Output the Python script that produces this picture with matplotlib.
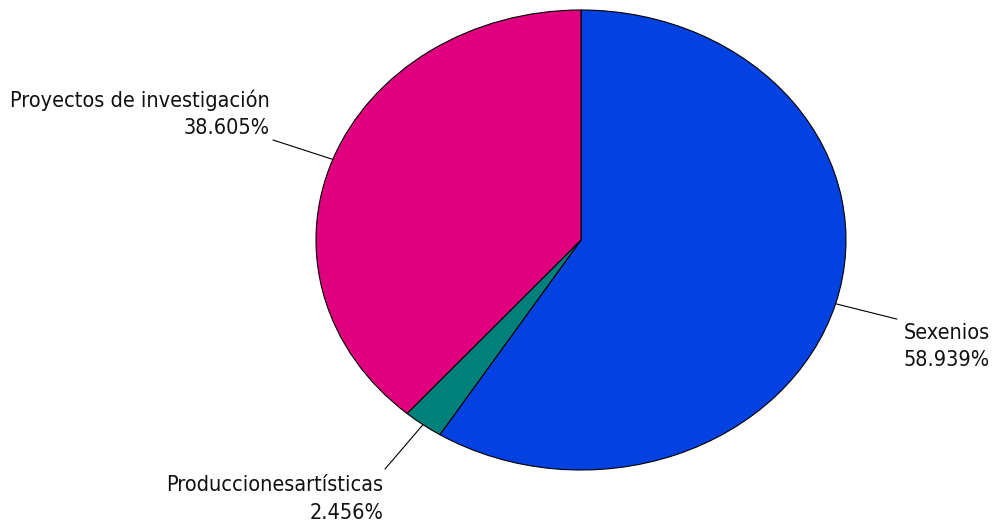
import numpy as np
import matplotlib
matplotlib.use("Agg")
import matplotlib.pyplot as plt
from matplotlib import font_manager as fm

categories = ["Sexenios", "Producciones artísticas", "Proyectos de investigación"]
display_labels = ["Sexenios", "Produccionesartísticas", "Proyectos de investigación"]
values = [58.939, 2.456, 38.605]
colors = ["#0341E0", "#00807A", "#E0007F"]

# pick a narrow Tahoma-like font if available
cond = [f.fname for f in fm.fontManager.ttflist
        if "DejaVuSansCondensed.ttf" in f.fname]
if cond:
    fprops = fm.FontProperties(fname=cond[0], size=15.5)
else:
    fprops = fm.FontProperties(family="Liberation Sans", size=15.8)

W, H = 1004, 532
fig = plt.figure(figsize=(W / 100, H / 100), dpi=100)
cx, cy, rx, ry = 581, 240, 265, 230
ax = fig.add_axes([(cx - rx) / W, (H - cy - ry) / H, 2 * rx / W, 2 * ry / H])
wedges, _ = ax.pie(values, colors=colors, startangle=90, counterclock=False,
                   wedgeprops=dict(edgecolor="black", linewidth=0.8))
ax.set_aspect("auto")
ax.set_xlim(-1, 1)
ax.set_ylim(-1, 1)
ax.axis("off")

text_pos = {
    "Sexenios": (1.543, -0.463),
    "Producciones artísticas": (-0.747, -1.126),
    "Proyectos de investigación": (-1.174, 0.548),
}

for w, cat, lab, v in zip(wedges, categories, display_labels, values):
    ang = np.deg2rad((w.theta1 + w.theta2) / 2)
    x0, y0 = np.cos(ang), np.sin(ang)
    ax.plot([x0, 1.24 * x0], [y0, 1.24 * y0], color="black", lw=0.8, clip_on=False)
    tx, ty = text_pos[cat]
    ax.text(tx, ty, f"{lab}\n{v:.3f}%", ha="right", va="center", multialignment="right",
            fontproperties=fprops, linespacing=1.45, color="#111111")

fig.savefig("out.png", dpi=100)
